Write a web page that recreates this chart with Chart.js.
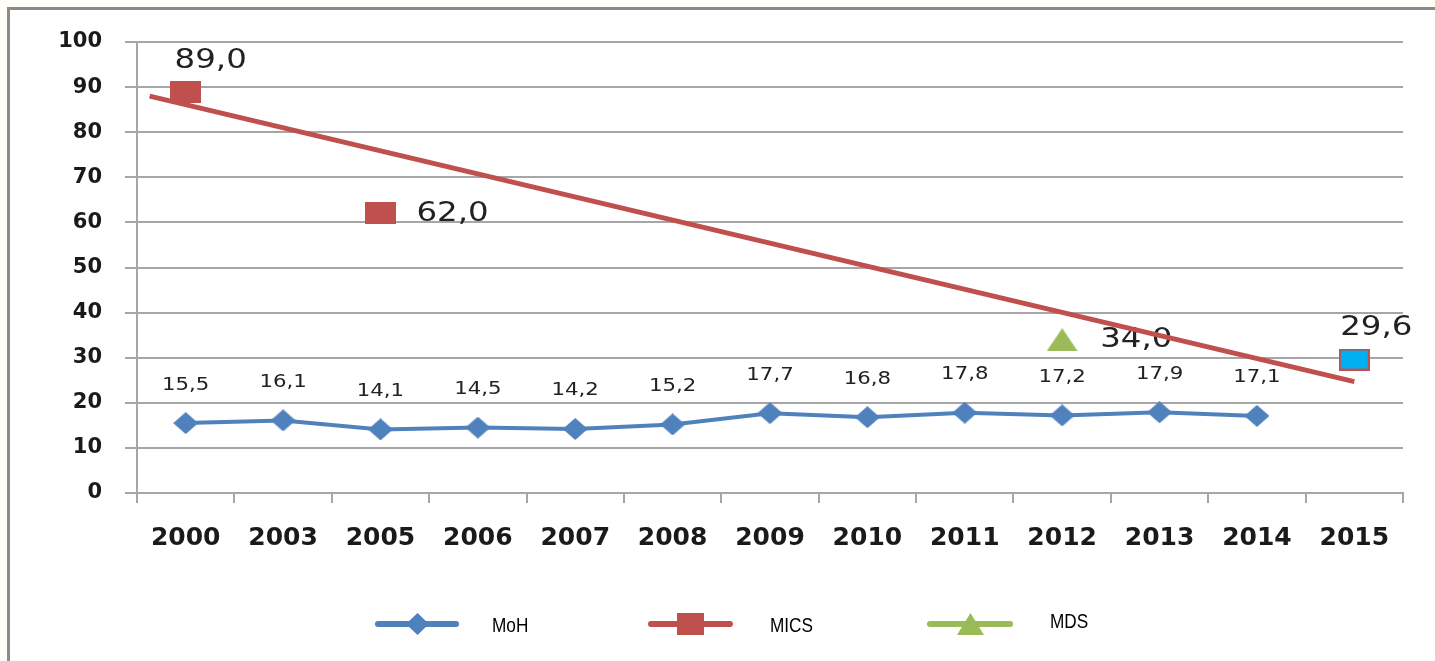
<!DOCTYPE html>
<html><head><meta charset="utf-8">
<script src="https://cdn.jsdelivr.net/npm/chart.js@4.4.1/dist/chart.umd.min.js"></script>
<style>html,body{margin:0;padding:0;background:#fffdf7;overflow:hidden}
#wrap{position:absolute;left:0;top:0;width:1435px;height:661px}</style>
</head><body><div id="wrap"><canvas id="c" width="1435" height="661"></canvas></div>
<script>
const categories = ['2000','2003','2005','2006','2007','2008','2009','2010','2011','2012','2013','2014','2015'];
const mohValues  = [15.5,16.1,14.1,14.5,14.2,15.2,17.7,16.8,17.8,17.2,17.9,17.1,null];
const micsValues = [89.0,null,62.0,null,null,null,null,null,null,null,null,null,29.6];
const mdsValues  = [null,null,null,null,null,null,null,null,null,34.0,null,null,null];
const trendX = [-0.37, 12.0];
const trendY = [88.0, 24.7];
const seriesNames = ['MoH','MICS','MDS'];
const yMin = 0, yMax = 100, yStep = 10;

const BLUE = '#4f81bd', RED = '#c0504d', GREEN = '#9bbb59', CYAN = '#00b0f0';

function makeMarker(shape, w, h, fill, stroke, lw) {
  const c = document.createElement('canvas');
  c.width = w; c.height = h;
  const g = c.getContext('2d');
  g.fillStyle = fill;
  g.beginPath();
  if (shape === 'rect') {
    g.rect(0, 0, w, h);
  } else if (shape === 'diamond') {
    g.moveTo(w / 2, 0); g.lineTo(w, h / 2); g.lineTo(w / 2, h); g.lineTo(0, h / 2); g.closePath();
  } else if (shape === 'triangle') {
    g.moveTo(w / 2, 0); g.lineTo(w, h); g.lineTo(0, h); g.closePath();
  }
  g.fill();
  if (stroke) {
    g.strokeStyle = stroke; g.lineWidth = lw;
    g.strokeRect(lw / 2, lw / 2, w - lw, h - lw);
  }
  return c;
}

const mDiamond = makeMarker('diamond', 25, 22, BLUE);
const mRed = makeMarker('rect', 31, 22, RED);
const mCyan = makeMarker('rect', 31, 22, CYAN, RED, 2);
const mTri = makeMarker('triangle', 31, 23, GREEN);
const lgDiamond = makeMarker('diamond', 23, 22, BLUE);
const lgRed = makeMarker('rect', 27, 22, RED);
const lgTri = makeMarker('triangle', 27, 22, GREEN);

const framePlugin = {
  id: 'frame',
  beforeDraw(chart) {
    const ctx = chart.ctx;
    ctx.save();
    ctx.fillStyle = '#fffdf7';
    ctx.fillRect(0, 0, chart.width, chart.height);
    ctx.fillStyle = '#ffffff';
    ctx.fillRect(9, 9, chart.width - 9, chart.height - 9);
    ctx.strokeStyle = '#8a8a8a';
    ctx.lineWidth = 3;
    ctx.beginPath();
    ctx.moveTo(8.5, chart.height);
    ctx.lineTo(8.5, 8.5);
    ctx.lineTo(chart.width, 8.5);
    ctx.stroke();
    ctx.restore();
  }
};

function fmt(v) { return v.toFixed(1).replace('.', ','); }

function drawScaledText(ctx, text, x, y, font, color, align, sx) {
  ctx.save();
  ctx.translate(x, y);
  ctx.scale(sx, 1);
  ctx.font = font;
  ctx.fillStyle = color;
  ctx.textAlign = align;
  ctx.textBaseline = 'middle';
  ctx.fillText(text, 0, 0);
  ctx.restore();
}

const labelPlugin = {
  id: 'vlabels',
  beforeDatasetsDraw(chart, args, opts) {
    const ctx = chart.ctx;
    (opts.sets || []).forEach(cfg => {
      const ds = chart.data.datasets[cfg.ds];
      const meta = chart.getDatasetMeta(cfg.ds);
      meta.data.forEach((pt, j) => {
        const v = ds.data[j];
        if (v === null || v === undefined) return;
        const o = (cfg.offsets && cfg.offsets[j]) || cfg.offset;
        drawScaledText(ctx, fmt(v), pt.x + o.dx, pt.y + o.dy, cfg.font, cfg.color, o.align, cfg.sx);
      });
    });
  }
};

const legendPlugin = {
  id: 'customLegend',
  afterDraw(chart, args, opts) {
    const ctx = chart.ctx;
    opts.items.forEach(it => {
      ctx.save();
      ctx.strokeStyle = it.color;
      ctx.lineWidth = 6;
      ctx.lineCap = 'round';
      ctx.beginPath();
      ctx.moveTo(it.x0, it.y);
      ctx.lineTo(it.x1, it.y);
      ctx.stroke();
      const mk = it.marker;
      ctx.drawImage(mk, Math.round((it.x0 + it.x1) / 2 - mk.width / 2), Math.round(it.y - mk.height / 2));
      ctx.restore();
      drawScaledText(ctx, seriesNames[it.ds], it.tx, it.ty, '20px "Liberation Sans", Arial, sans-serif', '#000', 'left', 0.86);
    });
  }
};

new Chart(document.getElementById('c'), {
  type: 'line',
  data: {
    labels: categories,
    datasets: [
      { label: seriesNames[0], data: mohValues, borderColor: BLUE, backgroundColor: BLUE, borderWidth: 4,
        pointStyle: mDiamond, pointRadius: 12, order: 2 },
      { label: seriesNames[1], data: micsValues, showLine: false,
        pointStyle: [mRed, mRed, mRed, mRed, mRed, mRed, mRed, mRed, mRed, mRed, mRed, mRed, mCyan], pointRadius: 15,
        borderColor: RED, backgroundColor: RED, order: 0 },
      { label: seriesNames[2], data: mdsValues, showLine: false, pointStyle: mTri, pointRadius: 15,
        borderColor: GREEN, backgroundColor: GREEN, order: 0 },
      { label: 'trend', xAxisID: 'xt', data: trendX.map((x, i) => ({x: x, y: trendY[i]})), borderColor: RED,
        borderWidth: 5, pointRadius: 0, order: 1 }
    ]
  },
  options: {
    responsive: false,
    animation: false,
    layout: { padding: { left: 10, right: 32, top: 42, bottom: 0 } },
    plugins: {
      legend: { display: false },
      tooltip: { enabled: false },
      vlabels: {
        sets: [
          { ds: 0, font: '17px "DejaVu Sans", sans-serif', color: '#222', sx: 1.25, offset: { dx: 0, dy: -38, align: 'center' } },
          { ds: 1, font: '27px "DejaVu Sans", sans-serif', color: '#222', sx: 1.2, offset: { dx: 36, dy: 1, align: 'left' },
            offsets: { 0: { dx: 25, dy: -31, align: 'center' }, 2: { dx: 36, dy: 1, align: 'left' }, 12: { dx: 22, dy: -32, align: 'center' } } },
          { ds: 2, font: '27px "DejaVu Sans", sans-serif', color: '#222', sx: 1.2, offset: { dx: 38, dy: 0, align: 'left' } }
        ]
      },
      customLegend: {
        items: [
          { ds: 0, color: BLUE, marker: lgDiamond, x0: 378, x1: 456, y: 624, tx: 492, ty: 626 },
          { ds: 1, color: RED, marker: lgRed, x0: 651, x1: 730, y: 624, tx: 770, ty: 626 },
          { ds: 2, color: GREEN, marker: lgTri, x0: 930, x1: 1010, y: 624, tx: 1050, ty: 622 }
        ]
      }
    },
    scales: {
      x: {
        type: 'category', offset: true,
        grid: { offset: true, drawOnChartArea: false, drawTicks: true, tickLength: 10, color: '#a6a6a6', lineWidth: 2 },
        border: { color: '#a6a6a6', width: 2 },
        ticks: { font: { family: 'DejaVu Sans', weight: 'bold', size: 25 }, color: '#1a1a1a', padding: 20, maxRotation: 0, autoSkip: false },
        afterFit: s => { s.height = 168; }
      },
      xt: { type: 'linear', display: false, min: -0.5, max: 12.5 },
      y: {
        min: yMin, max: yMax,
        ticks: { stepSize: yStep, font: { family: 'DejaVu Sans', weight: 'bold', size: 21 }, color: '#1a1a1a', padding: 23 },
        grid: { color: '#a6a6a6', lineWidth: 2, tickLength: 12 },
        border: { color: '#a6a6a6', width: 2 },
        afterFit: s => { s.width = 127; }
      }
    }
  },
  plugins: [framePlugin, labelPlugin, legendPlugin]
});
</script>
</body></html>
